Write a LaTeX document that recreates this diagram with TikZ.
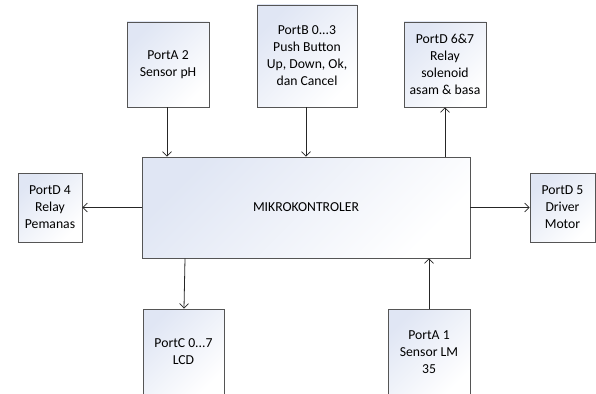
\documentclass[tikz,border=0pt]{standalone}
\usepackage{fontspec}
\setmainfont{Carlito}
\usetikzlibrary{arrows.meta}
\definecolor{boxtop}{RGB}{224,230,244}
\definecolor{boxline}{RGB}{85,85,85}
\tikzset{
  blk/.style={draw=boxline, line width=0.9pt, top color=boxtop, bottom color=white, shading angle=45,
    align=center, inner sep=2pt, font=\fontsize{13.7}{17}\selectfont},
  arr/.style={draw=black!85, line width=0.8pt, -{Straight Barb[length=4.5pt,width=9pt,line width=0.7pt]}}
}
\begin{document}
\begin{tikzpicture}[x=1pt,y=-1pt]
\useasboundingbox (0,0) rectangle (596,393);
\clip (0,0) rectangle (596,393);
\node[blk, minimum width=82pt, minimum height=85pt] (pA2) at (168,64.5) {PortA 2\\Sensor pH};
\node[blk, minimum width=100pt, minimum height=102pt] (pB) at (307,56) {PortB 0...3\\Push Button\\Up, Down, Ok,\\dan Cancel};
\node[blk, minimum width=82pt, minimum height=85pt] (pD67) at (445,64.5) {PortD 6\&7\\Relay\\solenoid\\asam \& basa};
\node[blk, minimum width=328pt, minimum height=101pt] (main) at (306,207.5) {MIKROKONTROLER};
\node[blk, minimum width=64pt, minimum height=69pt] (pD4) at (50,207.5) {PortD 4\\Relay\\Pemanas};
\node[blk, minimum width=65pt, minimum height=69pt] (pD5) at (562.5,207.5) {PortD 5\\Driver\\Motor};
\node[blk, minimum width=81pt, minimum height=86pt] (pC) at (183.5,352) {PortC 0...7\\LCD};
\node[blk, minimum width=82pt, minimum height=86pt] (pA1) at (429,352) {PortA 1\\Sensor LM\\35};
\draw[arr] (pA2.south -| 167,0) -- (main.north -| 167,0);
\draw[arr] (pB.south -| 306,0) -- (main.north -| 306,0);
\draw[arr] (main.north -| 445,0) -- (pD67.south -| 445,0);
\draw[arr] (main.west) -- (pD4.east);
\draw[arr] (main.east) -- (pD5.west);
\draw[arr] (main.south -| 185,0) -- (pC.north -| 184,0);
\draw[arr] (pA1.north -| 429,0) -- (main.south -| 429,0);
\end{tikzpicture}
\end{document}
